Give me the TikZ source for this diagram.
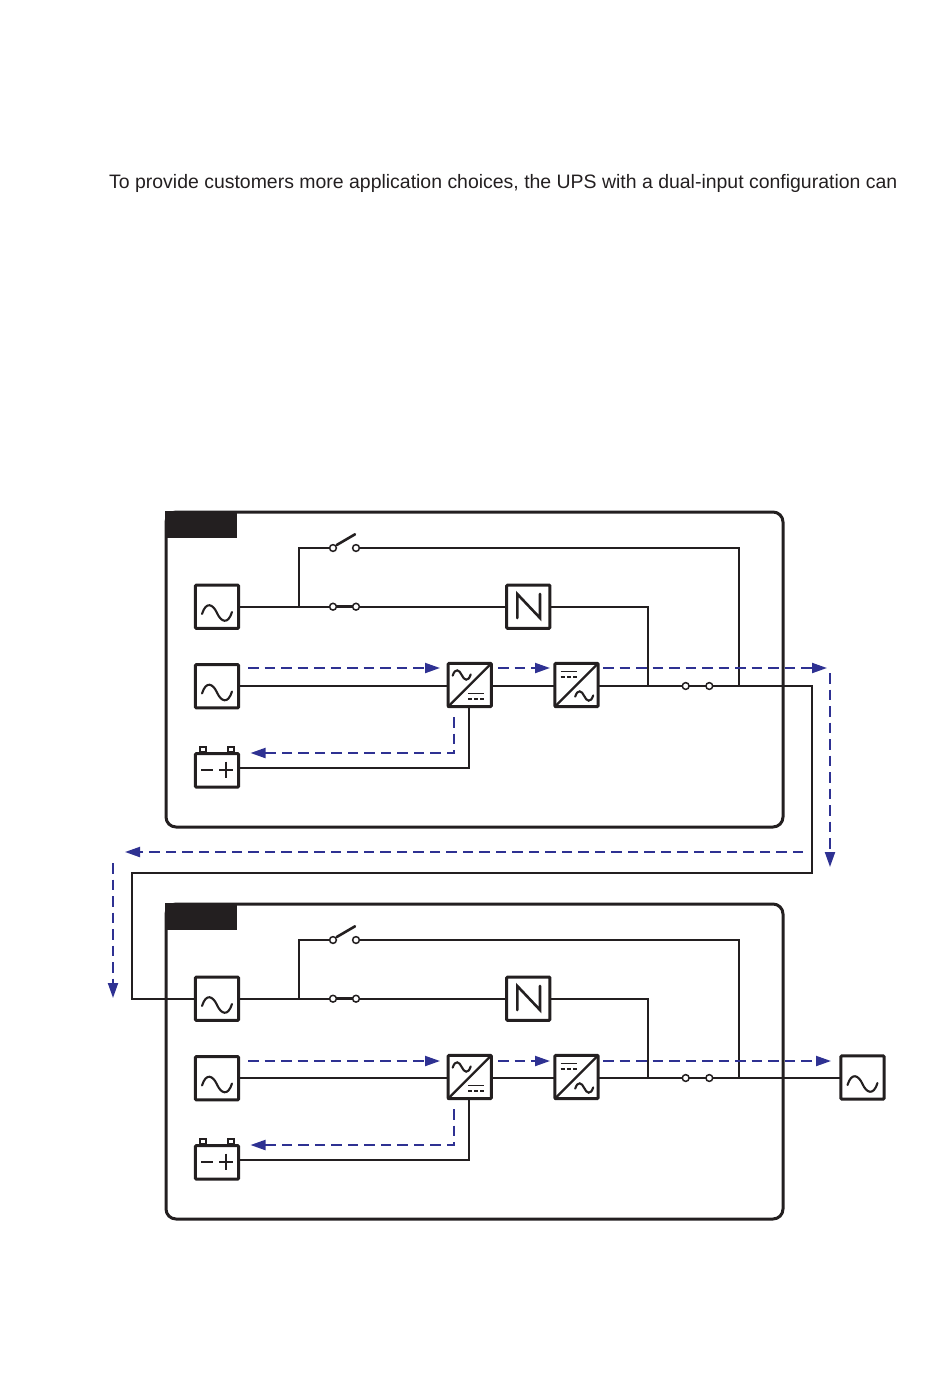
\documentclass[tikz,border=0pt]{standalone}
\usepackage{fontspec}
\setmainfont{Liberation Sans}
\usetikzlibrary{arrows.meta,calc}
\definecolor{inkk}{HTML}{231F20}
\definecolor{flow}{HTML}{2E3192}
\tikzset{
  x=1pt,y=-1pt,
  wire/.style={draw=inkk,line width=2pt,line join=miter},
  flowline/.style={draw=flow,line width=2pt,dash pattern=on 10.5pt off 6pt,-{Triangle[length=15pt,width=10pt]}},
  symbox/.style={draw=inkk,line width=3pt,rounded corners=1pt,minimum width=43.3pt,minimum height=43.3pt,inner sep=0pt,outer sep=0pt,fill=white},
  batbox/.style={symbox,minimum height=33.5pt},
  frameb/.style={draw=inkk,line width=3pt,rounded corners=10pt,minimum width=617pt,minimum height=315pt,inner sep=0pt,outer sep=0pt},
  tagb/.style={fill=inkk,minimum width=72.2pt,minimum height=27.2pt,inner sep=0pt,outer sep=0pt},
  contact/.style={circle,draw=inkk,line width=1.5pt,fill=white,minimum size=6.8pt,inner sep=0pt,outer sep=0pt},
  sym/.style={draw=inkk,line width=2.1pt,line cap=round},
  symthin/.style={draw=inkk,line width=1.6pt},
}
% sine glyph: centre x, centre y, scale
\newcommand{\wavesym}[3]{\draw[sym,shift={(#1,#2)},scale=#3]
  (-15,1) .. controls (-11,-12) and (-4,-9) .. (0,0) .. controls (4,9) and (11,12) .. (15,-1);}
% one UPS unit: #1 = name prefix, #2 = y of the upper flow line
\newcommand{\upsunit}[2]{
  \node[frameb] (#1frame) at (474.5,669.5) {};
  \node[tagb] (#1tag) at (200.9,524.4) {};
  \node[symbox] (#1ac) at (217,606.7) {};
  \node[symbox] (#1ad) at (217,686.3) {};
  \node[batbox] (#1bat) at (217,770.3) {};
  \node[symbox] (#1rect) at (469.7,685) {};
  \node[symbox] (#1inv) at (576.5,685) {};
  \node[symbox] (#1byp) at (528.3,606.7) {};
  \node[contact] (#1sa) at (333,548) {};
  \node[contact] (#1sb) at (356,548) {};
  \node[contact] (#1ma) at (333,606.7) {};
  \node[contact] (#1mb) at (356,606.7) {};
  \node[contact] (#1oa) at (685.7,686) {};
  \node[contact] (#1ob) at (709.3,686) {};
  \coordinate (#1j1) at (299,606.7);
  \coordinate (#1j2) at (648,686);
  \coordinate (#1j3) at (739,686);
  % wires
  \draw[wire] (#1ac.east) -- (#1ma.west);
  \draw[wire] (#1mb.east) -- (#1byp.west);
  \draw[wire] (#1j1) |- (#1sa.west);
  \draw[wire] (#1sb.east) -| (#1j3);
  \draw[wire] (#1byp.east) -| (#1j2);
  \draw[wire] (#1ad.east |- #1j2) -- (#1rect.west |- #1j2);
  \draw[wire] (#1rect.east |- #1j2) -- (#1inv.west |- #1j2);
  \draw[wire] (#1inv.east |- #1j2) -- (#1oa.west);
  \draw[wire] (#1bat.east |- 0,767.7) -- (469,767.7) -- (469,707);
  % switch blades
  \draw[sym,line width=2.6pt] (336.7,545) -- (355,534.3);
  \draw[sym,line width=2.6pt,line cap=butt] (#1ma.east) -- (#1mb.west);
  \draw[sym,line width=2.6pt,line cap=butt] (#1oa.east) -- (#1ob.west);
  % source glyphs
  \wavesym{217}{613}{1}
  \wavesym{217}{692.5}{1}
  % battery
  \draw[symthin,line width=2pt] (199.7,752.3) rectangle +(6.6,-5.8);
  \draw[symthin,line width=2pt] (227.7,752.3) rectangle +(6.4,-5.8);
  \draw[sym,line cap=butt] (201.3,770) -- (212.7,770);
  \draw[sym,line cap=butt] (219.3,769.7) -- (232.7,769.7) (226,761.7) -- (226,777.7);
  % rectifier
  \draw[sym,line width=2.4pt] (#1rect.south west) -- (#1rect.north east);
  \wavesym{461.7}{675}{0.6}
  \draw[symthin] (468,693.3) -- (484,693.3);
  \draw[symthin,dash pattern=on 3.8pt off 2.4pt] (468,698.7) -- (484,698.7);
  % inverter
  \draw[sym,line width=2.4pt] (#1inv.south west) -- (#1inv.north east);
  \wavesym{584.2}{696}{0.6}
  \draw[symthin] (560.7,671.3) -- (576.7,671.3);
  \draw[symthin,dash pattern=on 3.8pt off 2.4pt] (560.7,676.7) -- (576.7,676.7);
  % bypass glyph
  \draw[sym,line width=2.6pt,line join=miter] (517.3,618) -- (517.3,594) -- (540,618) -- (540,594);
  % flow arrows
  \coordinate (#1fa) at (248,#2);
  \coordinate (#1fb) at (440,#2);
  \coordinate (#1fc) at (498,#2);
  \coordinate (#1fd) at (550,#2);
  \coordinate (#1fg) at (454,717);
  \coordinate (#1fh) at (454,753);
  \coordinate (#1fi) at (250.5,753);
  \draw[flowline] (#1fa) -- (#1fb);
  \draw[flowline] (#1fc) -- (#1fd);
  \draw[flowline] (#1fg) -- (#1fh) -- (#1fi);
}
\begin{document}
\begin{tikzpicture}
\useasboundingbox (0,0) rectangle (950,1385);
\node[anchor=base west,inner sep=0pt,text=inkk,font=\fontsize{19.45}{23}\selectfont] (intro) at (109,188)
  {To provide customers more application choices, the UPS with a dual-input configuration can};
\begin{scope}
  \upsunit{a}{668}
\end{scope}
\begin{scope}[yshift=-392pt]
  \upsunit{b}{669}
\end{scope}
\node[symbox] (load) at (862.5,1077.5) {};
\wavesym{862.5}{1084}{1}
% link between units
\coordinate (t1) at (812,873);
\coordinate (t2) at (132,873);
\draw[wire] (aob.east) -- (aob.east -| t1) -- (t1) -- (t2) |- (bac.west);
\draw[wire] (bob.east) -- (bob.east -| load.west);
% outer flow arrows
\coordinate (u1) at (603,668);
\coordinate (u2) at (827,668);
\coordinate (u3) at (830,673);
\coordinate (u4) at (830,867);
\coordinate (u5) at (803,852);
\coordinate (u6) at (125,852);
\coordinate (u7) at (113,863);
\coordinate (u8) at (113,998);
\coordinate (v1) at (603,1061);
\coordinate (v2) at (831,1061);
\draw[flowline] (u1) -- (u2);
\draw[flowline] (u3) -- (u4);
\draw[flowline] (u5) -- (u6);
\draw[flowline] (u7) -- (u8);
\draw[flowline] (v1) -- (v2);
\end{tikzpicture}
\end{document}
